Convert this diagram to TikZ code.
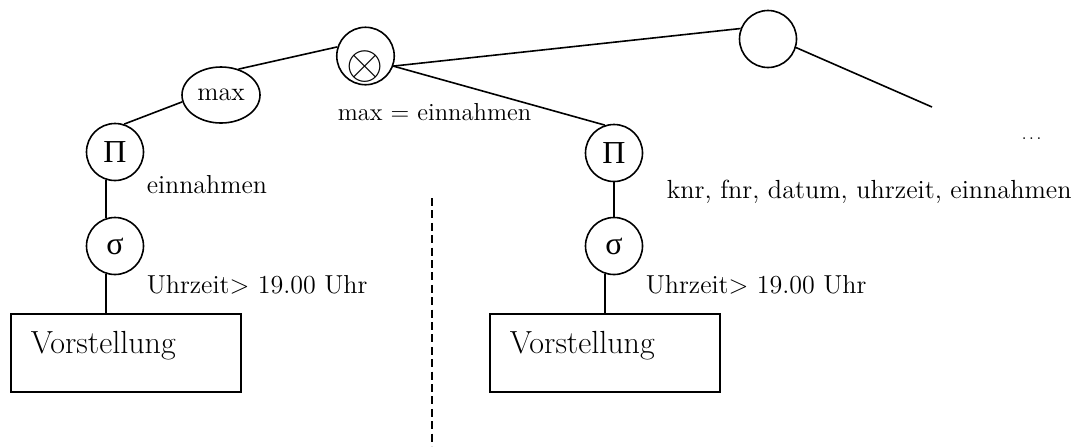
\documentclass[tikz,border=0pt]{standalone}
\usepackage{amsmath}
\usepackage{fontspec}
\newfontfamily\greekfont{Liberation Serif}
\usetikzlibrary{shapes.geometric}
\tikzset{op/.style = {draw, circle, inner sep = 0, minimum size = 28.5pt,
                      font = \fontsize{16}{19}\selectfont}}
\tikzset{agg/.style = {draw, ellipse, inner sep = 0, minimum width = 39pt,
                       minimum height = 28pt, font = \fontsize{13}{15}\selectfont}}
\tikzset{rel/.style = {draw, anchor = north west, inner sep = 0, text width = 95pt,
                       minimum width = 115pt, text height = 20pt, text depth = 19pt,
                       align = left, font = \fontsize{16}{19}\selectfont}}
\tikzset{lbl/.style = {anchor = base west, inner sep = 0, font = \fontsize{13}{15}\selectfont}}

\begin{document}
\begin{tikzpicture}[x = 0.5pt, y = -0.5pt, line width = 0.8pt]
        \useasboundingbox (0, 0) rectangle (1074, 446);
        % join and aggregation
        \node (join) at (365.5, 56) [op, text height = 22pt, text depth = 0pt] {\scalebox{1.15}{\huge$\otimes$}};
        \node (maxe) at (221, 95) [agg] {max};
        \node (topc) at (768, 39) [op] {};
        \coordinate (rest) at (932, 107);
        % left branch
        \node (pil) at (115, 152) [op] {\greekfont Π};
        \node (sigl) at (115, 246) [op] {\greekfont σ};
        \node (boxl) at (10, 313) [rel] {Vorstellung};
        % right branch
        \node (pir) at (614, 153) [op] {\greekfont Π};
        \node (sigr) at (614, 246) [op] {\greekfont σ};
        \node (boxr) at (489, 313) [rel] {Vorstellung};
        % edges
        \draw (join.162) -- (maxe.56);
        \draw (maxe.190) -- (pil.72);
        \draw (join.-20) -- (topc.159);
        \draw (join.-20) -- (pir.108);
        \draw (topc.-17) -- (rest);
        \draw (pil.252) -- (sigl.108);
        \draw (sigl.252) -- (sigl.252 |- boxl.north);
        \draw (pir) -- (sigr);
        \draw (sigr.252) -- (sigr.252 |- boxr.north);
        % labels
        \node (cond) at (337, 120) [lbl, font = \fontsize{12.3}{14}\selectfont] {max = einnahmen};
        \node (projl) at (146, 193) [lbl] {einnahmen};
        \node (sell) at (146, 293) [lbl] {Uhrzeit> 19.00 Uhr};
        \node (projr) at (666, 198) [lbl, font = \fontsize{13.1}{15}\selectfont] {knr, fnr, datum, uhrzeit, einnahmen};
        \node (selr) at (645, 293) [lbl] {Uhrzeit> 19.00 Uhr};
        \node (dots) at (1021, 139) [lbl, font = \fontsize{8}{10}\selectfont] {.\,.\,.};
        % separator
        \coordinate (cuttop) at (432, 198);
        \coordinate (cutbot) at (432, 446);
        \draw [dashed, dash pattern = on 4pt off 2.2pt] (cuttop) -- (cutbot);
      \end{tikzpicture}
\end{document}
